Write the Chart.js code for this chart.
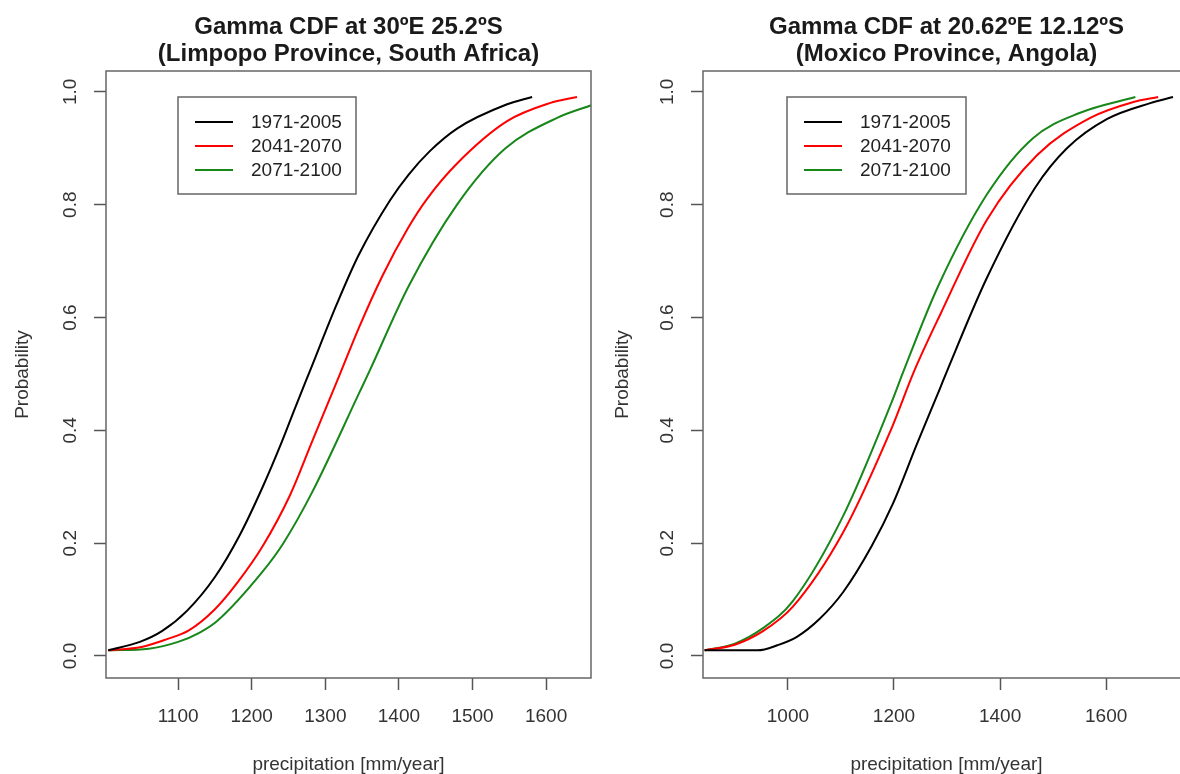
<!DOCTYPE html>
<html>
<head>
<meta charset="utf-8">
<title>Gamma CDF</title>
<script src="https://cdn.jsdelivr.net/npm/chart.js@4.4.1/dist/chart.umd.min.js"></script>
<style>
    html, body { margin: 0; padding: 0; background: #fff; overflow: hidden; }
    body { width: 1180px; height: 774px; position: relative; }
    .panel { position: absolute; top: 0; width: 600px; height: 774px; }
    #left { left: 0; }
    #right { left: 600px; }
</style>
</head>
<body>
<div class="panel" id="left"><canvas id="chartLeft" width="600" height="774"></canvas></div>
<div class="panel" id="right"><canvas id="chartRight" width="600" height="774"></canvas></div>
<script>
// Series names (periods)
const periods = ['1971-2005', '2041-2070', '2071-2100'];

// Tick labels
const probTicks = [0, 0.2, 0.4, 0.6, 0.8, 1.0];
const limpopoTicks = [1100, 1200, 1300, 1400, 1500, 1600];
const moxicoTicks = [1000, 1200, 1400, 1600];

// Limpopo Province (30ºE 25.2ºS) - precipitation [mm/year] / probability
const limpopoPrecip1971 = [1005, 1048, 1078, 1112, 1150, 1184, 1215, 1241, 1259, 1279, 1316, 1345, 1388, 1413, 1442, 1479, 1547, 1581];
const limpopoProb1971   = [0.010, 0.025, 0.044, 0.080, 0.140, 0.215, 0.300, 0.380, 0.440, 0.505, 0.625, 0.710, 0.808, 0.853, 0.895, 0.935, 0.978, 0.991];
const limpopoPrecip2041 = [1005, 1050, 1085, 1114, 1150, 1181, 1215, 1252, 1282, 1320, 1345, 1378, 1413, 1438, 1479, 1547, 1605, 1642];
const limpopoProb2041   = [0.010, 0.016, 0.030, 0.045, 0.083, 0.131, 0.195, 0.285, 0.380, 0.500, 0.580, 0.675, 0.760, 0.810, 0.873, 0.948, 0.980, 0.991];
const limpopoPrecip2071 = [1005, 1060, 1100, 1130, 1153, 1215, 1243, 1282, 1347, 1360, 1413, 1479, 1544, 1615, 1665];
const limpopoProb2071   = [0.010, 0.013, 0.025, 0.042, 0.062, 0.150, 0.200, 0.290, 0.469, 0.505, 0.655, 0.800, 0.899, 0.954, 0.978];

// Moxico Province (20.62ºE 12.12ºS)
const moxicoPrecip1971 = [843, 943, 980, 1017, 1060, 1104, 1158, 1198, 1243, 1287, 1300, 1375, 1466, 1526, 1602, 1683, 1726];
const moxicoProb1971   = [0.010, 0.010, 0.019, 0.034, 0.066, 0.113, 0.195, 0.270, 0.375, 0.475, 0.505, 0.670, 0.830, 0.900, 0.952, 0.980, 0.991];
const moxicoPrecip2041 = [843, 900, 953, 1009, 1104, 1196, 1238, 1287, 1375, 1470, 1570, 1651, 1698];
const moxicoProb2041   = [0.010, 0.020, 0.044, 0.087, 0.219, 0.405, 0.505, 0.605, 0.773, 0.888, 0.954, 0.982, 0.991];
const moxicoPrecip2071 = [843, 900, 951, 1009, 1104, 1196, 1218, 1283, 1375, 1462, 1551, 1655];
const moxicoProb2071   = [0.010, 0.022, 0.048, 0.097, 0.248, 0.451, 0.505, 0.655, 0.818, 0.918, 0.963, 0.991];

const lineColors = ['#000000', '#ff0000', '#17871a'];
const FONT = '"Liberation Sans", Arial, Helvetica, sans-serif';
Chart.defaults.font.family = FONT;
Chart.defaults.color = '#333';

function toPoints(xs, ys) {
    return xs.map((x, i) => ({ x: x, y: ys[i] }));
}

// box around the plot region, two-line title and boxed legend (R style)
const rStylePlugin = {
    id: 'rStyle',
    afterDraw(chart, args, opts) {
        const ctx = chart.ctx;
        const a = chart.chartArea;
        ctx.save();

        // frame
        ctx.strokeStyle = '#666';
        ctx.lineWidth = 1.5;
        ctx.strokeRect(a.left, a.top, a.right - a.left, a.bottom - a.top);

        // title
        ctx.fillStyle = '#1a1a1a';
        ctx.font = 'bold 24px ' + FONT;
        ctx.textAlign = 'center';
        ctx.textBaseline = 'middle';
        const cx = (a.left + a.right) / 2;
        opts.title.forEach((line, i) => {
            ctx.fillText(line, cx, 27 + i * 27);
        });

        // legend
        const bx = a.left + opts.legendX;
        const by = a.top + 26;
        ctx.strokeStyle = '#666';
        ctx.lineWidth = 1.5;
        ctx.strokeRect(bx, by, opts.legendW, 97);
        ctx.font = '19px ' + FONT;
        ctx.textAlign = 'left';
        chart.data.datasets.forEach((ds, i) => {
            const ry = by + 25 + i * 24;
            ctx.strokeStyle = ds.borderColor;
            ctx.lineWidth = 2;
            ctx.beginPath();
            ctx.moveTo(bx + 17, ry);
            ctx.lineTo(bx + 55, ry);
            ctx.stroke();
            ctx.fillStyle = '#222';
            ctx.fillText(ds.label, bx + 73, ry + 1);
        });
        ctx.restore();
    }
};

function makeChart(canvasId, cfg) {
    const ctx = document.getElementById(canvasId).getContext('2d');
    const datasets = cfg.series.map((s, i) => ({
        label: periods[i],
        data: toPoints(s[0], s[1]),
        borderColor: lineColors[i],
        borderWidth: 2,
        pointRadius: 0,
        fill: false,
        cubicInterpolationMode: 'monotone',
        clip: 0,
    }));

    return new Chart(ctx, {
        type: 'line',
        data: { datasets: datasets },
        plugins: [rStylePlugin],
        options: {
            responsive: false,
            animation: false,
            layout: { padding: { top: 71, right: cfg.padRight, bottom: 0, left: 0 } },
            plugins: {
                legend: { display: false },
                tooltip: { enabled: false },
                rStyle: { title: cfg.title, legendX: cfg.legendX, legendW: cfg.legendW },
            },
            scales: {
                x: {
                    type: 'linear',
                    min: cfg.xMin,
                    max: cfg.xMax,
                    afterBuildTicks: (scale) => { scale.ticks = cfg.xTicks.map(v => ({ value: v })); },
                    afterFit: (scale) => { scale.height = 96; },
                    grid: { drawOnChartArea: false, tickLength: 12, tickWidth: 1.5, tickColor: '#555' },
                    border: { display: false },
                    ticks: {
                        padding: 15,
                        maxRotation: 0,
                        autoSkip: false,
                        color: '#333',
                        font: { size: 19 },
                        callback: (v) => String(v),
                    },
                    title: {
                        display: true,
                        text: 'precipitation [mm/year]',
                        color: '#333',
                        font: { size: 19, lineHeight: 1 },
                        padding: { top: 0, bottom: 0 },
                    },
                },
                y: {
                    type: 'linear',
                    min: -0.039,
                    max: 1.037,
                    afterBuildTicks: (scale) => { scale.ticks = probTicks.map(v => ({ value: v })); },
                    afterFit: (scale) => { scale.width = cfg.yAxisWidth; },
                    grid: { drawOnChartArea: false, tickLength: 12, tickWidth: 1.5, tickColor: '#555' },
                    border: { display: false },
                    ticks: {
                        minRotation: 90,
                        maxRotation: 90,
                        crossAlign: 'center',
                        padding: 10,
                        color: '#333',
                        font: { size: 19 },
                        callback: (v) => v.toFixed(1),
                    },
                    title: {
                        display: true,
                        text: 'Probability',
                        color: '#333',
                        font: { size: 19, lineHeight: 1 },
                        padding: { top: 13, bottom: 0 },
                    },
                },
            },
        },
    });
}

makeChart('chartLeft', {
    title: ['Gamma CDF at 30ºE 25.2ºS', '(Limpopo Province, South Africa)'],
    series: [
        [limpopoPrecip1971, limpopoProb1971],
        [limpopoPrecip2041, limpopoProb2041],
        [limpopoPrecip2071, limpopoProb2071],
    ],
    xMin: 1002,
    xMax: 1661,
    xTicks: limpopoTicks,
    yAxisWidth: 106,
    padRight: 9,
    legendX: 72,
    legendW: 178,
});

makeChart('chartRight', {
    title: ['Gamma CDF at 20.62ºE 12.12ºS', '(Moxico Province, Angola)'],
    series: [
        [moxicoPrecip1971, moxicoProb1971],
        [moxicoPrecip2041, moxicoProb2041],
        [moxicoPrecip2071, moxicoProb2071],
    ],
    xMin: 840,
    xMax: 1758,
    xTicks: moxicoTicks,
    yAxisWidth: 103,
    padRight: 10,
    legendX: 84,
    legendW: 179,
});
</script>
</body>
</html>
